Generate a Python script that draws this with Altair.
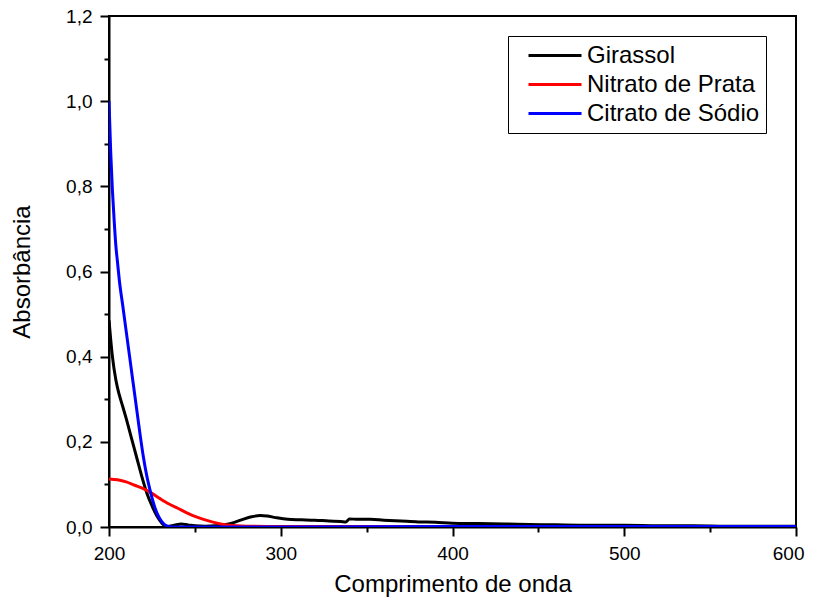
import altair as alt
import pandas as pd

series_names = ["Girassol", "Nitrato de Prata", "Citrato de Sódio"]
series_colors = ["#000000", "#ff0000", "#0000ff"]

girassol_wl = [200, 201, 202, 204, 206, 208, 210, 213, 216, 219, 222, 225, 228, 231, 234,
               238, 242, 246, 250, 256, 262, 268, 273, 278, 283, 288, 292, 297, 304, 312,
               320, 328, 335, 338, 340, 345, 352, 360, 370, 380, 390, 400, 415, 430, 445,
               460, 480, 500, 520, 540, 560, 580, 600]
girassol_abs = [0.485, 0.44, 0.40, 0.345, 0.31, 0.283, 0.255, 0.21, 0.165, 0.12, 0.08, 0.05,
                0.025, 0.008, 0.001, 0.004, 0.007, 0.005, 0.003, 0.002, 0.003, 0.006, 0.011,
                0.018, 0.024, 0.027, 0.026, 0.022, 0.018, 0.017, 0.016, 0.014, 0.013, 0.012,
                0.019, 0.018, 0.018, 0.016, 0.014, 0.012, 0.011, 0.009, 0.008, 0.007, 0.006,
                0.005, 0.004, 0.004, 0.003, 0.003, 0.002, 0.002, 0.002]

nitrato_wl = [200, 205, 210, 215, 220, 225, 230, 235, 240, 245, 250, 255, 260, 265, 270,
              280, 300, 350, 400, 500, 600]
nitrato_abs = [0.113, 0.111, 0.106, 0.098, 0.09, 0.079, 0.066, 0.054, 0.044, 0.034, 0.025,
               0.018, 0.012, 0.007, 0.004, 0.002, 0.001, 0.001, 0.0005, 0.0, 0.0]

citrato_wl = [200, 201, 202, 203, 204, 205, 206, 208, 210, 212, 214, 216, 218, 220, 222,
              224, 226, 228, 230, 232, 234, 236, 240, 250, 300, 400, 500, 600]
citrato_abs = [1.0, 0.88, 0.79, 0.72, 0.66, 0.62, 0.58, 0.52, 0.46, 0.40, 0.34, 0.28, 0.22,
               0.165, 0.12, 0.085, 0.055, 0.032, 0.017, 0.007, 0.002, 0.0, 0.0, 0.0, 0.0,
               0.001, 0.001, 0.001]

x_major = [200, 300, 400, 500, 600]
x_minor = [250, 350, 450, 550]
y_major = [0.0, 0.2, 0.4, 0.6, 0.8, 1.0, 1.2]
y_minor = [0.1, 0.3, 0.5, 0.7, 0.9, 1.1]

frames = []
for name, wl, ab in [(series_names[0], girassol_wl, girassol_abs),
                     (series_names[1], nitrato_wl, nitrato_abs),
                     (series_names[2], citrato_wl, citrato_abs)]:
    frames.append(pd.DataFrame({"wl": wl, "abs": ab, "serie": name}))
df = pd.concat(frames, ignore_index=True)

FONT = "Liberation Sans"
x_scale = alt.Scale(domain=[200, 600], nice=False, zero=False)
y_scale = alt.Scale(domain=[0, 1.2], nice=False)

major_x_axis = alt.Axis(
    orient="bottom",
    title="Comprimento de onda",
    values=x_major,
    tickSize=9,
    labelFlush=False,
    labelOverlap=False,
    labelAlign={"condition": {"test": "datum.value == 600", "value": "right"}, "value": "center"},
    labelOffset={"condition": {"test": "datum.value == 600", "value": 8}, "value": 0},
    labelPadding=8,
    titlePadding=9,
    grid=False,
)
major_y_axis = alt.Axis(
    orient="left",
    title="Absorbância",
    values=y_major,
    labelExpr="replace(format(datum.value, '.1f'), '.', ',')",
    tickSize=9,
    labelFlush=False,
    labelOverlap=False,
    labelPadding=8,
    titlePadding=31,
    grid=False,
)
minor_x_axis = alt.Axis(
    orient="bottom", title=None, values=x_minor, tickSize=5, labels=False,
    domain=False, grid=False,
)
minor_y_axis = alt.Axis(
    orient="left", title=None, values=y_minor, tickSize=5, labels=False,
    domain=False, grid=False,
)

color_enc = alt.Color(
    "serie:N",
    scale=alt.Scale(domain=series_names, range=series_colors),
    legend=alt.Legend(
        title=None,
        orient="none",
        legendX=399,
        legendY=20,
        strokeColor="black",
        fillColor="white",
        padding=6,
        symbolType="stroke",
        symbolSize=2809,
        symbolStrokeWidth=3,
        symbolOffset=13,
        labelOffset=4,
        labelLimit=400,
        labelExpr="datum.label + '\u00a0\u00a0'",
        labelFont=FONT,
        labelFontSize=24,
        labelColor="black",
        clipHeight=27,
        rowPadding=2,
    ),
)

axes_per_layer = [
    (minor_x_axis, minor_y_axis),
    (major_x_axis, major_y_axis),
    (None, None),
]

base = alt.Chart(df)
layers = []
for name, (ax_x, ax_y) in zip(series_names, axes_per_layer):
    layers.append(
        base.transform_filter(alt.datum.serie == name)
        .mark_line(strokeWidth=3, interpolate="monotone", clip=True)
        .encode(
            x=alt.X("wl:Q", scale=x_scale, axis=ax_x),
            y=alt.Y("abs:Q", scale=y_scale, axis=ax_y),
            color=color_enc,
        )
    )

chart = (
    alt.layer(*layers)
    .resolve_axis(x="independent", y="independent")
    .properties(
        width=687,
        height=511,
        autosize=alt.AutoSizeParams(type="none"),
        padding={"left": 101, "top": 8, "right": 9, "bottom": 70},
        background="white",
    )
    .configure_view(stroke="black", strokeWidth=2)
    .configure_axis(
        labelFont=FONT,
        labelFontSize=19,
        labelColor="black",
        titleFont=FONT,
        titleFontSize=24,
        titleFontWeight="normal",
        titleColor="black",
        domainColor="black",
        domainWidth=2,
        tickColor="black",
        tickWidth=2,
    )
)

chart.save("out.html", embed_options={"renderer": "svg", "actions": False})
